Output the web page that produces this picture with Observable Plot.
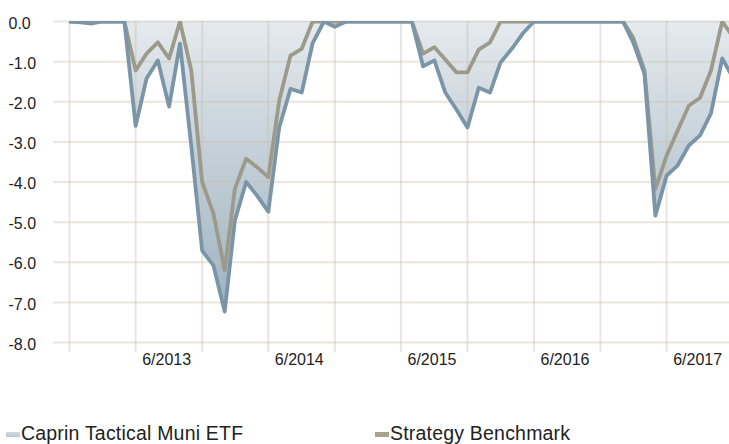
<!DOCTYPE html>
<html>
<head>
<meta charset="utf-8">
<script src="https://cdn.jsdelivr.net/npm/d3@7"></script>
<script src="https://cdn.jsdelivr.net/npm/@observablehq/plot@0.6"></script>
<style>
  html, body { margin: 0; padding: 0; background: white; }
  #wrap { position: relative; width: 729px; height: 444px; overflow: hidden; }
  .leg { position: absolute; top: 424px; font-family: "Liberation Sans", Arial, sans-serif; font-size: 19.5px; line-height: 19px; color: #222; white-space: nowrap; letter-spacing: 0.2px; }
  .sw { position: absolute; width: 14px; height: 5px; }
</style>
</head>
<body>
<div id="wrap"></div>
<script>
// Monthly drawdown values (%), Dec 2012 .. Dec 2017
const fund = [
  0, -0.02, -0.05, 0, 0, 0, -2.6, -1.42, -0.97, -2.12, -0.55, -3.1,
  -5.71, -6.08, -7.23, -4.96, -4.0, -4.34, -4.74, -2.64, -1.68, -1.77, -0.54, 0,
  -0.13, 0, 0, 0, 0, 0, 0, 0, -1.12, -0.97, -1.77, -2.2,
  -2.64, -1.65, -1.77, -1.02, -0.68, -0.3, 0, 0, 0, 0, 0, 0,
  0, 0, 0, -0.52, -1.3, -4.84, -3.84, -3.59, -3.09, -2.84, -2.29, -0.92,
  -1.41
];
const bench = [
  0, 0, 0, 0, 0, 0, -1.22, -0.8, -0.52, -0.92, 0, -1.22,
  -4.0, -4.79, -6.2, -4.17, -3.42, -3.63, -3.88, -1.97, -0.85, -0.68, 0, 0,
  0, 0, 0, 0, 0, 0, 0, 0, -0.8, -0.64, -0.95, -1.27,
  -1.27, -0.7, -0.52, 0, 0, 0, 0, 0, 0, 0, 0, 0,
  0, 0, 0, -0.4, -1.22, -4.17, -3.34, -2.72, -2.1, -1.9, -1.22, 0,
  -0.39
];
const seriesNames = ["Caprin Tactical Muni ETF", "Strategy Benchmark"];
const yTicks = [0, -1, -2, -3, -4, -5, -6, -7, -8];
const yTickLabels = ["0.0", "-1.0", "-2.0", "-3.0", "-4.0", "-5.0", "-6.0", "-7.0", "-8.0"];
const xTickDates = ["2013-06-01", "2014-06-01", "2015-06-01", "2016-06-01", "2017-06-01"];
const xTickLabels = ["6/2013", "6/2014", "6/2015", "6/2016", "6/2017"];
const gridDates = ["2012-12-01", "2013-06-01", "2013-12-01", "2014-06-01", "2014-12-01",
                   "2015-06-01", "2015-12-01", "2016-06-01", "2016-12-01", "2017-06-01"];

const months = d3.utcMonth.range(new Date(Date.UTC(2012, 11, 1)), new Date(Date.UTC(2018, 0, 1)));
const data = months.map((d, i) => ({date: d, fund: fund[i], bench: bench[i]}));
const yLab = yTicks.map((v, i) => ({v, t: yTickLabels[i]}));
const xLab = xTickDates.map((d, i) => ({d: new Date(d), t: xTickLabels[i]}));
const grid = gridDates.map(d => new Date(d));

const fundColor = "#7b95a8";
const benchColor = "#9c9a8a";
const gridColor = "rgb(200,190,170)";

const chart = Plot.plot({
  width: 729, height: 400,
  marginLeft: 69, marginRight: 0, marginTop: 21, marginBottom: 58,
  x: {type: "utc", domain: [new Date(Date.UTC(2012, 11, 1)), new Date(Date.UTC(2017, 10, 21))], axis: null},
  y: {domain: [-8, 0], axis: null},
  style: {fontFamily: "'Liberation Sans', Arial, sans-serif", background: "white"},
  marks: [
    Plot.areaY(data, {x: "date", y: "fund", fill: "url(#ddgrad)", clip: true}),
    Plot.ruleY(yTicks, {stroke: gridColor, strokeOpacity: 0.38, strokeWidth: 2, insetLeft: -16}),
    Plot.ruleX(grid, {y1: 0, y2: -8, insetBottom: -10, stroke: gridColor, strokeOpacity: 0.38, strokeWidth: 2}),
    Plot.lineY(data, {x: "date", y: "bench", stroke: benchColor, strokeWidth: 3.8, clip: true}),
    Plot.lineY(data, {x: "date", y: "fund", stroke: fundColor, strokeWidth: 3.8, clip: true}),
    Plot.text(yLab, {y: "v", text: "t", frameAnchor: "left", dx: -61, dy: 2, textAnchor: "start",
      fontSize: 16, fill: "#222", letterSpacing: "0.6px"}),
    Plot.text(xLab, {x: "d", text: "t", frameAnchor: "bottom", dy: 22, dx: 31,
      fontSize: 16, fill: "#222", letterSpacing: "0.6px"})
  ]
});

// gradient for the drawdown area
const ns = "http://www.w3.org/2000/svg";
const ys = chart.scale("y");
const defs = document.createElementNS(ns, "defs");
const lg = document.createElementNS(ns, "linearGradient");
lg.setAttribute("id", "ddgrad");
lg.setAttribute("gradientUnits", "userSpaceOnUse");
lg.setAttribute("x1", 0); lg.setAttribute("x2", 0);
lg.setAttribute("y1", ys.apply(0)); lg.setAttribute("y2", ys.apply(-7.3));
[["0", "#e5eaee"], ["1", "#9db1bf"]].forEach(([o, c]) => {
  const s = document.createElementNS(ns, "stop");
  s.setAttribute("offset", o); s.setAttribute("stop-color", c);
  lg.appendChild(s);
});
defs.appendChild(lg);
chart.insertBefore(defs, chart.firstChild);

const wrap = document.getElementById("wrap");
wrap.appendChild(chart);

// legend
const legItems = [
  {name: seriesNames[0], x: 6, sw: "linear-gradient(#d3dae0, #b9c6d0)"},
  {name: seriesNames[1], x: 375, sw: "#a8a390"}
];
legItems.forEach(it => {
  const sw = document.createElement("div");
  sw.className = "sw";
  sw.style.left = it.x + "px";
  sw.style.top = "432px";
  sw.style.background = it.sw;
  wrap.appendChild(sw);
  const t = document.createElement("div");
  t.className = "leg";
  t.style.left = (it.x + 15) + "px";
  t.textContent = it.name;
  wrap.appendChild(t);
});
</script>
</body>
</html>
